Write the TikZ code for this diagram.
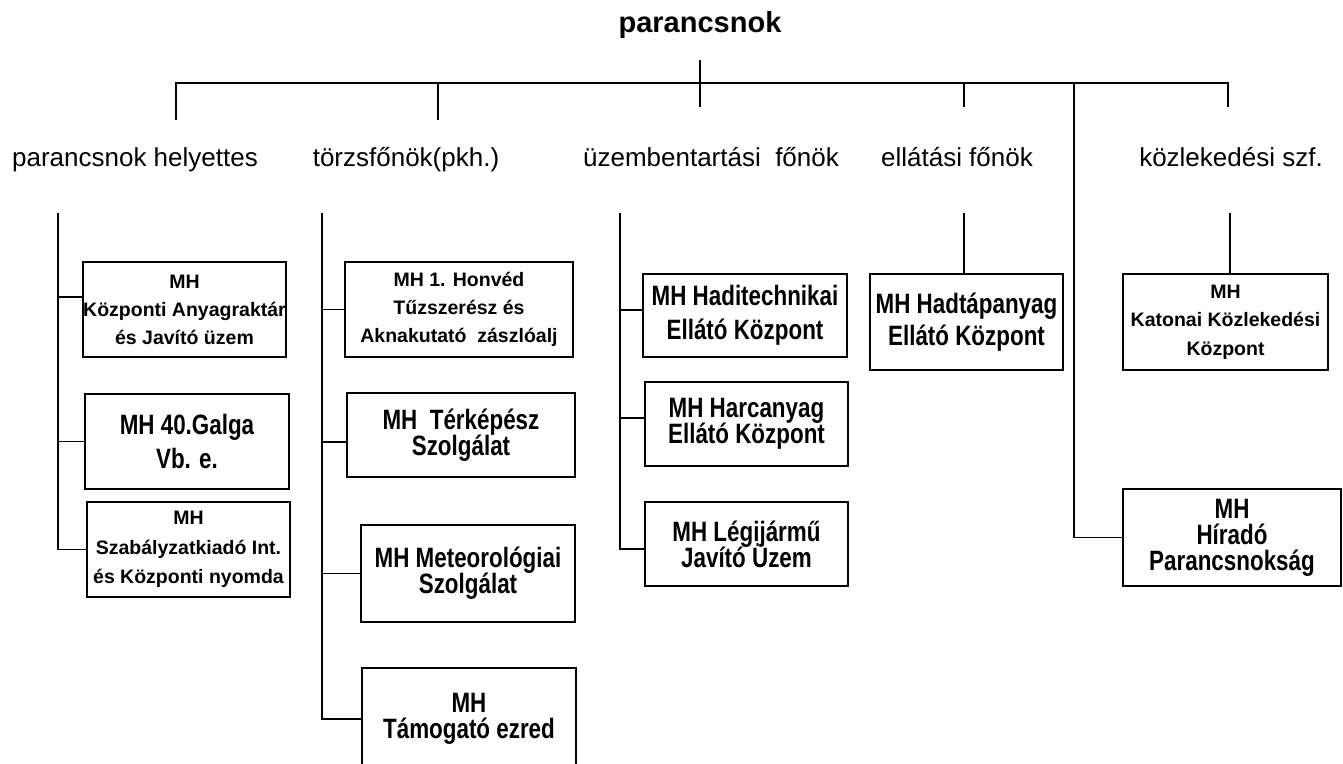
\documentclass[tikz,border=0pt]{standalone}
\usepackage{fontspec}
\setmainfont{Liberation Sans}
\newfontfamily\narrowfam[FakeStretch=0.8]{Liberation Sans}
\begin{document}
\begin{tikzpicture}[x=1pt,y=-1pt,
  conn/.style={line width=1.2pt},
  lbl/.style={anchor=base, inner sep=0, font=\fontsize{26}{30}\selectfont},
  titlelbl/.style={anchor=base, inner sep=0, font=\bfseries\fontsize{29}{34}\selectfont},
  sz/.style 2 args={minimum width=#1pt, minimum height=#2pt},
  smallbox/.style={draw, line width=1.6pt, inner sep=0, align=center,
    font={\bfseries\fontsize{19.5}{#1}\selectfont\lineskiplimit=-100pt}},
  bigbox/.style={draw, line width=1.6pt, inner sep=0, align=center,
    font={\narrowfam\bfseries\fontsize{28}{#1}\selectfont\lineskiplimit=-100pt}},
  ]
\useasboundingbox (0,0) rectangle (1343,763);

% title and top tree
\node[titlelbl] (top) at (700,32) {parancsnok};
\coordinate (t0) at (700,60);
\coordinate (t1) at (700,107);
\coordinate (hl) at (176,83);
\coordinate (hr) at (1228,83);
\coordinate (d1) at (176,120);
\coordinate (d2) at (438,120);
\coordinate (d4) at (964,107);
\coordinate (dh) at (1074,83);
\coordinate (d5) at (1228,107);
\draw[conn] (t0) -- (t1);
\draw[conn] (d1) -- (hl) -- (hr) -- (d5);
\draw[conn] (d2) -- (d2 |- hl);
\draw[conn] (d4) -- (d4 |- hl);

% second-level labels
\node[lbl] (l1) at (135,166) {parancsnok helyettes};
\node[lbl] (l2) at (406,166) {törzsfőnök(pkh.)};
\node[lbl] (l3) at (711,166) {üzembentartási\ \ főnök};
\node[lbl] (l4) at (957,166) {ellátási főnök};
\node[lbl] (l5) at (1231,166) {közlekedési szf.};

% column 1
\node[smallbox=28, sz={203}{95}] (a1) at (184.5,309.5) {MH\\Központi Anyagraktár\\és Javító üzem};
\node[bigbox=34, sz={204}{95}] (a2) at (187,441.5) {MH 40.Galga\\Vb. e.};
\node[smallbox=29.5, sz={203}{95}] (a3) at (188.5,549.5) {MH\\Szabályzatkiadó Int.\\és Központi nyomda};
\coordinate (c1) at (58,213);
\draw[conn] (c1) |- (a3.west);
\path ([yshift=12.5pt]a1.west) coordinate (s11);
\draw[conn] (s11 -| c1) -- (s11);
\draw[conn] (c1 |- a2.west) -- (a2.west);

% column 2
\node[smallbox=28, sz={228}{95}] (b1) at (459,309.5) {MH 1. Honvéd\\Tűzszerész és\\Aknakutató\ \ zászlóalj};
\node[bigbox=26, sz={228}{84}] (b2) at (461,435) {MH\ \ Térképész\\Szolgálat};
\node[bigbox=26, sz={214}{97}] (b3) at (468,573.5) {MH Meteorológiai\\Szolgálat};
\node[bigbox=26, sz={214}{102}] (b4) at (469,719) {MH\\Támogató ezred};
\coordinate (c2) at (322,213);
\draw[conn] (c2) |- (b4.west);
\draw[conn] (c2 |- b1.west) -- (b1.west);
\path ([yshift=-7pt]b2.west) coordinate (s22);
\draw[conn] (s22 -| c2) -- (s22);
\draw[conn] (c2 |- b3.west) -- (b3.west);

% column 3
\node[bigbox=34, sz={204}{83}] (e1) at (745,315.5) {MH Haditechnikai\\Ellátó Központ};
\node[bigbox=26, sz={203}{84}] (e2) at (746.5,424) {MH Harcanyag\\Ellátó Központ};
\node[bigbox=26, sz={203}{84}] (e3) at (746.5,544) {MH Légijármű\\Javító Üzem};
\coordinate (c3) at (620,213);
\path ([yshift=5.5pt]e1.west) coordinate (s31);
\path ([yshift=6pt]e2.west) coordinate (s32);
\path ([yshift=-5pt]e3.west) coordinate (s33);
\draw[conn] (c3) |- (s33);
\draw[conn] (s31 -| c3) -- (s31);
\draw[conn] (s32 -| c3) -- (s32);

% column 4
\node[bigbox=32, sz={193}{96}] (f1) at (966.5,322) {MH Hadtápanyag\\Ellátó Központ};
\coordinate (g4) at (964,213);
\draw[conn] (g4) -- (g4 |- f1.north);

% column 5
\node[smallbox=28.5, sz={205}{96}] (k1) at (1225.5,322) {MH\\Katonai Közlekedési\\Központ};
\coordinate (g5) at (1230,213);
\draw[conn] (g5) -- (g5 |- k1.north);
\node[bigbox=26, sz={218}{97}] (k2) at (1232,537.5) {MH\\Híradó\\Parancsnokság};
\draw[conn] (dh) |- (k2.west);
\end{tikzpicture}
\end{document}
